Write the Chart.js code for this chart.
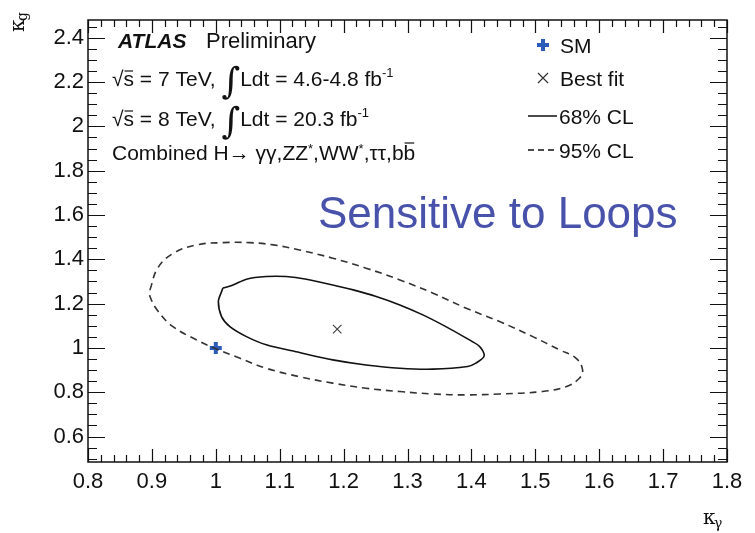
<!DOCTYPE html>
<html>
<head>
<meta charset="utf-8">
<script src="https://cdn.jsdelivr.net/npm/chart.js@4"></script>
<style>
html, body { margin: 0; padding: 0; background: #fff; }
</style>
</head>
<body>
<canvas id="myChart" width="755" height="533"></canvas>
<script>
'use strict';

// 68% CL contour (kappa_gamma, kappa_g)
var cl68Kgam = [1.011, 1.027, 1.048, 1.079, 1.110, 1.142, 1.183, 1.215, 1.251, 1.288, 1.324, 1.360, 1.392, 1.413, 1.420,
                1.407, 1.394, 1.340, 1.288, 1.235, 1.183, 1.131, 1.079, 1.048, 1.022, 1.009, 1.004, 1.009, 1.011];
var cl68Kg   = [1.270, 1.284, 1.310, 1.322, 1.322, 1.310, 1.284, 1.262, 1.232, 1.194, 1.149, 1.096, 1.044, 1.006, 0.964,
                0.931, 0.916, 0.904, 0.908, 0.923, 0.946, 0.979, 1.014, 1.051, 1.096, 1.141, 1.209, 1.254, 1.270];

// 95% CL contour
var cl95Kgam = [0.897, 0.909, 0.933, 0.970, 1.011, 1.053, 1.090, 1.131, 1.183, 1.235, 1.288, 1.340, 1.392, 1.444, 1.496,
                1.538, 1.564, 1.574, 1.569, 1.548, 1.511, 1.444, 1.392, 1.340, 1.288, 1.235, 1.183, 1.131, 1.079, 1.038,
                1.001, 0.970, 0.933, 0.910, 0.897, 0.897];
var cl95Kg   = [1.262, 1.360, 1.426, 1.465, 1.475, 1.475, 1.465, 1.442, 1.405, 1.360, 1.307, 1.247, 1.179, 1.119, 1.051,
                0.991, 0.953, 0.901, 0.863, 0.825, 0.803, 0.792, 0.788, 0.792, 0.803, 0.818, 0.841, 0.870, 0.908, 0.953,
                0.995, 1.036, 1.096, 1.164, 1.232, 1.262];

var smPoint = [1.0, 1.0];
var bestFit = [1.19, 1.085];

var xTickLabels = ['0.8', '0.9', '1', '1.1', '1.2', '1.3', '1.4', '1.5', '1.6', '1.7', '1.8'];
var yTickLabels = ['0.6', '0.8', '1', '1.2', '1.4', '1.6', '1.8', '2', '2.2', '2.4'];

var FONT = '"Liberation Sans", Arial, Helvetica, sans-serif';

function zip(xs, ys) {
   return xs.map(function (x, i) { return { x: x, y: ys[i] }; });
}

// draw a run of text pieces one after the other
function drawRun(ctx, x, y, parts, baseFont) {
   parts.forEach(function (p) {
      ctx.font = p.f || baseFont;
      var w = ctx.measureText(p.t).width;
      ctx.fillText(p.t, x, y + (p.dy || 0));
      if (p.over) {
         ctx.beginPath();
         ctx.lineWidth = 1.2;
         ctx.moveTo(x + 1, y - p.over);
         ctx.lineTo(x + w - 1, y - p.over);
         ctx.stroke();
      }
      x += w + (p.sp || 0);
   });
}

// ROOT-like frame with inner ticks and all the labels on top
var atlasDecor = {
   id: 'atlasDecor',
   afterDraw: function (chart) {
      var ctx = chart.ctx, a = chart.chartArea;
      var xs = chart.scales.x, ys = chart.scales.y;
      ctx.save();
      ctx.strokeStyle = '#111';
      ctx.fillStyle = '#111';
      ctx.lineWidth = 1.5;
      ctx.strokeRect(a.left, a.top, a.right - a.left, a.bottom - a.top);

      // x ticks, major every 0.1, minor every 0.02
      ctx.lineWidth = 1.2;
      ctx.beginPath();
      for (var i = 0; i <= 50; i++) {
         var px = Math.round(xs.getPixelForValue(0.8 + i * 0.02)) + 0.5;
         var len = (i % 5 === 0) ? 13 : 7;
         ctx.moveTo(px, a.bottom); ctx.lineTo(px, a.bottom - len);
         ctx.moveTo(px, a.top); ctx.lineTo(px, a.top + len);
      }
      // y ticks, major every 0.2, minor every 0.05
      for (var j = 0; j <= 40; j++) {
         var v = 0.5 + j * 0.05;
         if (v > ys.max) break;
         var py = Math.round(ys.getPixelForValue(v)) + 0.5;
         var major = Math.abs(v * 5 - Math.round(v * 5)) < 1e-6;
         var l = major ? 17 : 9;
         ctx.moveTo(a.left, py); ctx.lineTo(a.left + l, py);
         ctx.moveTo(a.right, py); ctx.lineTo(a.right - l, py);
      }
      ctx.stroke();

      // annotation block
      ctx.textBaseline = 'alphabetic';
      ctx.textAlign = 'left';
      var base = '21px ' + FONT;
      var sup = '13px ' + FONT;
      var integ = '36px "DejaVu Serif", serif';
      ctx.font = 'italic bold 21px ' + FONT;
      ctx.fillText('ATLAS', 118, 48);
      ctx.font = '22px ' + FONT;
      ctx.fillText('Preliminary', 206, 48);

      drawRun(ctx, 112, 86, [
         { t: '\u221A' }, { t: 's', over: 15 }, { t: ' = 7 TeV, ' },
         { t: '\u222B', f: integ, dy: 7 }, { t: 'Ldt = 4.6-4.8 fb' }, { t: '-1', f: sup, dy: -9 }
      ], base);
      drawRun(ctx, 112, 126, [
         { t: '\u221A' }, { t: 's', over: 15 }, { t: ' = 8 TeV, ' },
         { t: '\u222B', f: integ, dy: 7 }, { t: 'Ldt = 20.3 fb' }, { t: '-1', f: sup, dy: -9 }
      ], base);
      drawRun(ctx, 112, 160, [
         { t: 'Combined H' }, { t: '\u2192' }, { t: ' \u03B3\u03B3,ZZ' }, { t: '*', f: sup, dy: -7 },
         { t: ',WW' }, { t: '*', f: sup, dy: -7 }, { t: ',\u03C4\u03C4,b' }, { t: 'b', over: 17 }
      ], base);

      // legend
      ctx.strokeStyle = '#2b5cb8';
      ctx.lineWidth = 4;
      ctx.beginPath();
      ctx.moveTo(537, 45); ctx.lineTo(549, 45);
      ctx.moveTo(543, 39); ctx.lineTo(543, 51);
      ctx.stroke();
      ctx.strokeStyle = '#333';
      ctx.lineWidth = 1.2;
      ctx.beginPath();
      ctx.moveTo(538, 73); ctx.lineTo(548, 83);
      ctx.moveTo(548, 73); ctx.lineTo(538, 83);
      ctx.stroke();
      ctx.strokeStyle = '#111';
      ctx.lineWidth = 1.5;
      ctx.beginPath();
      ctx.moveTo(528, 116); ctx.lineTo(557, 116);
      ctx.stroke();
      ctx.setLineDash([6, 4]);
      ctx.beginPath();
      ctx.moveTo(528, 150); ctx.lineTo(557, 150);
      ctx.stroke();
      ctx.setLineDash([]);
      ctx.font = base;
      ctx.fillText('SM', 560, 53);
      ctx.fillText('Best fit', 560, 86);
      ctx.fillText('68% CL', 559, 124);
      ctx.fillText('95% CL', 559, 158);

      ctx.fillStyle = 'rgb(72, 82, 170)';
      ctx.font = '44px ' + FONT;
      ctx.fillText('Sensitive to Loops', 318, 228);

      // axis titles
      ctx.fillStyle = '#111';
      ctx.font = '20px "DejaVu Serif", serif';
      ctx.fillText('\u03BA', 703, 524);
      ctx.font = '14px "DejaVu Serif", serif';
      ctx.fillText('\u03B3', 714, 528);

      ctx.translate(24, 32);
      ctx.rotate(-Math.PI / 2);
      ctx.font = '20px "DejaVu Serif", serif';
      ctx.fillText('\u03BA', 0, 0);
      ctx.font = '14px "DejaVu Serif", serif';
      ctx.fillText('g', 11, 3);
      ctx.restore();
   }
};

var ctx = document.getElementById('myChart').getContext('2d');
var myChart = new Chart(ctx, {
   type: 'scatter',
   data: {
      datasets: [{
         label: '95% CL',
         data: zip(cl95Kgam, cl95Kg),
         showLine: true,
         borderColor: '#333',
         borderWidth: 1.6,
         borderDash: [7, 5],
         pointRadius: 0,
         tension: 0.4,
         fill: false
      }, {
         label: '68% CL',
         data: zip(cl68Kgam, cl68Kg),
         showLine: true,
         borderColor: '#111',
         borderWidth: 1.6,
         pointRadius: 0,
         tension: 0.3,
         fill: false
      }, {
         label: 'SM',
         data: [{ x: smPoint[0], y: smPoint[1] }],
         pointStyle: 'cross',
         pointRadius: 6,
         borderWidth: 4,
         borderColor: '#2b5cb8',
         backgroundColor: '#2b5cb8'
      }, {
         label: 'Best fit',
         data: [{ x: bestFit[0], y: bestFit[1] }],
         pointStyle: 'crossRot',
         pointRadius: 6,
         borderWidth: 1.2,
         borderColor: '#444'
      }]
   },
   options: {
      responsive: false,
      animation: false,
      devicePixelRatio: 1,
      layout: { padding: { left: 0, right: 28, top: 20, bottom: 0 } },
      plugins: {
         legend: { display: false },
         tooltip: { enabled: false }
      },
      scales: {
         x: {
            type: 'linear',
            min: 0.8,
            max: 1.8,
            afterBuildTicks: function (s) {
               s.ticks = xTickLabels.map(function (t) { return { value: Number(t) }; });
            },
            afterFit: function (s) { s.height = 71; },
            grid: { display: false, drawTicks: false },
            border: { display: false },
            ticks: {
               autoSkip: false,
               maxRotation: 0,
               padding: 7,
               color: '#111',
               font: { family: FONT, size: 22 },
               callback: function (v, i) { return xTickLabels[i]; }
            }
         },
         y: {
            type: 'linear',
            min: 0.485,
            max: 2.48,
            afterBuildTicks: function (s) {
               s.ticks = yTickLabels.map(function (t) { return { value: Number(t) }; });
            },
            afterFit: function (s) { s.width = 88; },
            grid: { display: false, drawTicks: false },
            border: { display: false },
            ticks: {
               autoSkip: false,
               padding: 4,
               color: '#111',
               font: { family: FONT, size: 22 },
               callback: function (v, i) { return yTickLabels[i]; }
            }
         }
      }
   },
   plugins: [atlasDecor]
});
</script>
</body>
</html>
